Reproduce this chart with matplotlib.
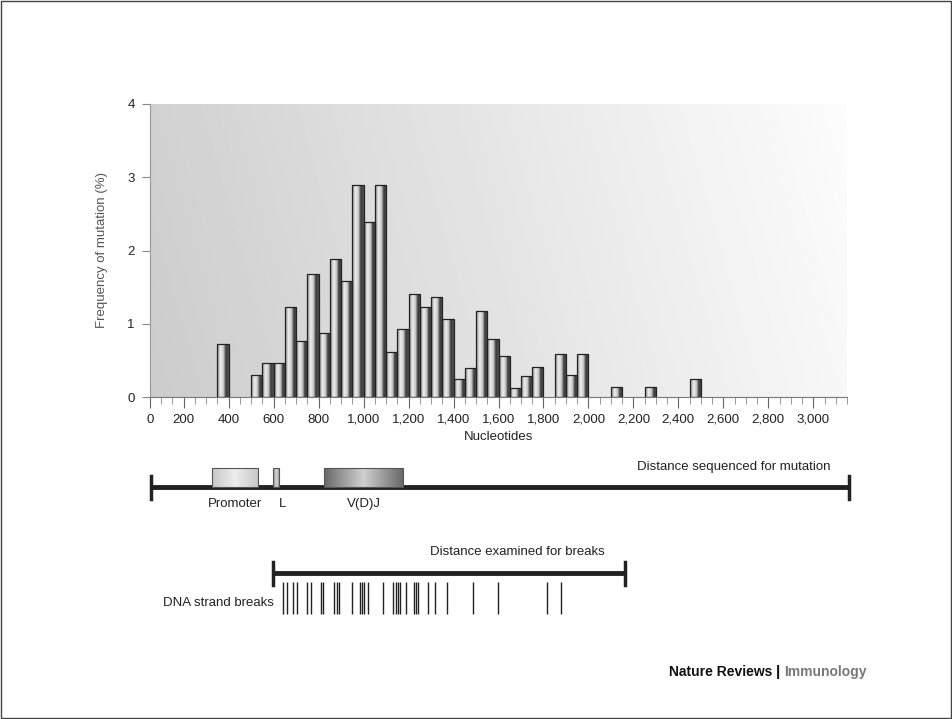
import numpy as np
import matplotlib
matplotlib.use('Agg')
from matplotlib import pyplot as plt
from matplotlib.colors import LinearSegmentedColormap
from matplotlib.patches import Rectangle

plt.rcParams['font.family'] = ['Liberation Sans', 'DejaVu Sans']

# mutation frequency per 50-nt bin (bin start, %)
bin_starts = [350, 500, 550, 600, 650, 700, 750, 800, 850, 900, 950, 1000, 1050,
              1100, 1150, 1200, 1250, 1300, 1350, 1400, 1450, 1500, 1550, 1600,
              1650, 1700, 1750, 1850, 1900, 1950, 2100, 2250, 2450]
freq = [0.73, 0.30, 0.46, 0.46, 1.23, 0.77, 1.68, 0.87, 1.89, 1.59, 2.89, 2.39, 2.89,
        0.62, 0.93, 1.40, 1.23, 1.37, 1.06, 0.25, 0.39, 1.18, 0.79, 0.56,
        0.12, 0.28, 0.41, 0.59, 0.30, 0.59, 0.13, 0.13, 0.24]
bin_width = 50

x_ticks = [50, 200, 400, 600, 800, 1000, 1200, 1400, 1600, 1800, 2000, 2200, 2400,
           2600, 2800, 3000]
x_ticklabels = ['0', '200', '400', '600', '800', '1,000', '1,200', '1,400', '1,600',
                '1,800', '2,000', '2,200', '2,400', '2,600', '2,800', '3,000']

# gene features (start, end) in nucleotides
features = {'Promoter': (326, 530), 'L': (597, 624), 'V(D)J': (824, 1175)}
seq_range = (55, 3160)
break_range = (598, 2161)
breaks = [643, 660, 684, 702, 749, 764, 809, 818, 869, 880, 892, 947, 984, 992,
          1003, 1020, 1087, 1132, 1142, 1151, 1161, 1187, 1224, 1231, 1240, 1287,
          1317, 1373, 1487, 1596, 1816, 1880]

W, H = 952, 719
fs = 9.5
fig = plt.figure(figsize=(W / 100, H / 100), dpi=100)
fig.patches.append(Rectangle((0.001, 0.001), 0.998, 0.997, transform=fig.transFigure,
                             fill=False, edgecolor='#444444', linewidth=1))

left, right = 150 / W, 847 / W
ax = fig.add_axes([left, 1 - 397 / H, right - left, (397 - 104) / H])

# background gradient
gx = np.linspace(0, 1, 300)
gy = np.linspace(0, 1, 100)[:, None]
bg = 0.80 + 0.17 * gx[None, :] + 0.02 * gy
ax.imshow(bg, extent=(50, 3150, 0, 4), cmap='gray', vmin=0, vmax=1,
          aspect='auto', origin='lower', zorder=0)

# cylinder-like bars
bar_cmap = LinearSegmentedColormap.from_list(
    'cyl', [(0, '#8a8a8a'), (0.3, '#eeeeee'), (0.55, '#c8c8c8'),
            (0.75, '#3a3a3a'), (1, '#555555')])
grad = np.linspace(0, 1, 50)[None, :]
bars = ax.bar(bin_starts, freq, width=bin_width, align='edge', facecolor='none',
              edgecolor='#222222', linewidth=0.9, zorder=3)
for b in bars:
    x0, h = b.get_x(), b.get_height()
    im = ax.imshow(grad, extent=(x0, x0 + bin_width, 0, h), cmap=bar_cmap,
                   aspect='auto', zorder=2)
    im.set_clip_path(b)
ax.set_xlim(50, 3150)
ax.set_ylim(0, 4)

for s in ['top', 'right']:
    ax.spines[s].set_visible(False)
ax.spines['left'].set_color('#999999')
ax.spines['bottom'].set_color('#777777')
ax.set_xticks(x_ticks)
ax.set_xticklabels(x_ticklabels, fontsize=fs, color='#222222')
ax.set_xticks(np.arange(100, 3151, 50), minor=True)
ax.tick_params(axis='x', which='major', length=8, color='#666666', pad=4)
ax.tick_params(axis='x', which='minor', length=5, color='#888888')
ax.set_yticks([0, 1, 2, 3, 4])
ax.tick_params(axis='y', length=6, color='#888888', labelsize=fs, pad=5,
               labelcolor='#222222')
ax.set_xlabel('Nucleotides', fontsize=fs, color='#222222', labelpad=4)
ax.set_ylabel('Frequency of mutation (%)', fontsize=fs, color='#555555', labelpad=14)

# lower diagram: x in nucleotides, y in pixel rows
ax2 = fig.add_axes([left, 1 - 640 / H, right - left, (640 - 450) / H])
ax2.axis('off')

ax2.plot(seq_range, [487, 487], color='#222222', linewidth=3.5, clip_on=False,
         solid_capstyle='butt')
for xe in seq_range:
    ax2.plot([xe, xe], [476, 499], color='#222222', linewidth=2.5, clip_on=False)
ax2.text(3075, 467, 'Distance sequenced for mutation', fontsize=fs,
         ha='right', va='center', color='#222222')

feat_styles = {'Promoter': ('#ededed', '#c8c8c8'),
               'L': ('#d8d8d8', '#888888'),
               'V(D)J': ('#d0d0d0', '#6a6a6a')}
for name, (x0, x1) in features.items():
    light, dark = feat_styles[name]
    cm = LinearSegmentedColormap.from_list(name, [(0, dark), (0.5, light), (1, dark)])
    box = Rectangle((x0, 468), x1 - x0, 19, facecolor='none', edgecolor='#555555',
                    linewidth=0.8, zorder=3)
    ax2.add_patch(box)
    im = ax2.imshow(np.linspace(0, 1, 60)[None, :], extent=(x0, x1, 487, 468),
                    cmap=cm, aspect='auto', zorder=2)
    im.set_clip_path(box)
    lx = (x0 + x1) / 2
    if name == 'L':
        lx = x1 + 15
    ax2.text(lx, 504, name, fontsize=fs, ha='center', va='center', color='#222222')
ax2.set_xlim(50, 3150)
ax2.set_ylim(640, 450)

ax2.plot(break_range, [573, 573], color='#222222', linewidth=3.5, clip_on=False,
         solid_capstyle='butt')
for xe in break_range:
    ax2.plot([xe, xe], [562, 585], color='#222222', linewidth=2.5, clip_on=False)
ax2.text(1682, 552, 'Distance examined for breaks', fontsize=fs,
         ha='center', va='center', color='#222222')
ax2.vlines(breaks, 582, 614, color='#222222', linewidth=1.0)
ax2.text(603, 603, 'DNA strand breaks', fontsize=fs, ha='right', va='center',
         color='#222222')

fig.text(772 / W, 1 - 672 / H, 'Nature Reviews', fontsize=10, fontweight='bold',
         ha='right', va='center', color='#111111')
fig.text(778 / W, 1 - 672 / H, '|', fontsize=11, fontweight='bold',
         ha='center', va='center', color='#111111')
fig.text(784 / W, 1 - 672 / H, 'Immunology', fontsize=10, fontweight='bold',
         ha='left', va='center', color='#777777')

fig.savefig('out.png', dpi=100)
